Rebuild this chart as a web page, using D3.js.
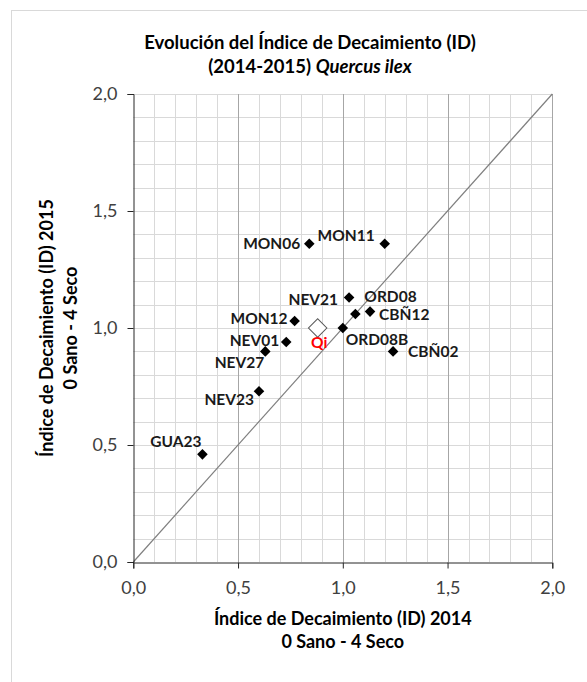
<!DOCTYPE html>
<html>
<head>
<meta charset="utf-8">
<script src="https://cdn.jsdelivr.net/npm/d3@7"></script>
<style>
  body { margin: 0; background: #fff; }
  svg { display: block; font-family: Lato, "Open Sans", sans-serif; }
</style>
</head>
<body>
<svg id="chart" width="587" height="682"></svg>
<script>
// Decline index per plot: 2014 value (x) against 2015 value (y)
const sites  = ["MON06", "MON11", "NEV21", "ORD08", "CBÑ12", "MON12", "ORD08B", "NEV01", "NEV27", "CBÑ02", "NEV23", "GUA23"];
const id2014 = [0.84, 1.20, 1.03, 1.06, 1.13, 0.77, 1.00, 0.73, 0.63, 1.24, 0.60, 0.33];
const id2015 = [1.36, 1.36, 1.13, 1.06, 1.07, 1.03, 1.00, 0.94, 0.90, 0.90, 0.73, 0.46];

// Species mean (Quercus ilex)
const meanLabel = "Qi";
const mean2014 = 0.88;
const mean2015 = 1.00;

// Axis ticks and the 1:1 reference line
const tickValues = [0, 0.5, 1.0, 1.5, 2.0];
const diagonal = [0, 2];

// Label placement around each marker (pixels)
const labelDx     = [-9, -10, -11, 9, 9, -7, 3, -7, -1, 15, -5, -1];
const labelDy     = [5, -3, 7, -12, 8, 3, 17, 4, 17, 6, 14, -7];
const labelAnchor = ["end", "end", "end", "start", "start", "end", "start", "end", "end", "start", "end", "end"];

const svg = d3.select("#chart");
const plot = { left: 133.3, right: 552.3, top: 94, bottom: 562 };

const x = d3.scaleLinear().domain([0, 2]).range([plot.left, plot.right]);
const y = d3.scaleLinear().domain([0, 2]).range([plot.bottom, plot.top]);

const comma = d3.formatLocale({ decimal: ",", thousands: ".", grouping: [3], currency: ["", "€"] }).format(".1f");

// chart frame
svg.append("rect")
  .attr("x", 11.5).attr("y", 10.5)
  .attr("width", 640).attr("height", 720)
  .attr("fill", "#fff").attr("stroke", "#d9d9d9");

// gridlines: light every 0.1, darker verticals at the major ticks
const gridVals = d3.range(0, 21).map(i => i / 10);
const grid = svg.append("g");
grid.selectAll("line.hy").data(gridVals.slice(1)).join("line")
  .attr("x1", plot.left).attr("x2", plot.right)
  .attr("y1", d => Math.round(y(d)) + 0.5).attr("y2", d => Math.round(y(d)) + 0.5)
  .attr("stroke", "#d9d9d9");
grid.selectAll("line.vx").data(gridVals.slice(1).filter((d, i) => (i + 1) % 5 !== 0)).join("line")
  .attr("y1", plot.top).attr("y2", plot.bottom)
  .attr("x1", d => Math.round(x(d)) + 0.5).attr("x2", d => Math.round(x(d)) + 0.5)
  .attr("stroke", "#d9d9d9");
grid.selectAll("line.vmaj").data(tickValues.slice(1)).join("line")
  .attr("y1", plot.top).attr("y2", plot.bottom)
  .attr("x1", d => Math.round(x(d)) + 0.5).attr("x2", d => Math.round(x(d)) + 0.5)
  .attr("stroke", "#a6a6a6");

// 1:1 line
svg.append("line")
  .attr("x1", x(diagonal[0])).attr("y1", y(diagonal[0]))
  .attr("x2", x(diagonal[1])).attr("y2", y(diagonal[1]))
  .attr("stroke", "#7f7f7f").attr("stroke-width", 1.2);

// axes
const xAxis = d3.axisBottom(x).tickValues(tickValues).tickFormat(comma).tickSize(6).tickPadding(13);
const yAxis = d3.axisLeft(y).tickValues(tickValues).tickFormat(comma).tickSize(6).tickPadding(10);

const gx = svg.append("g").attr("transform", `translate(0,${Math.round(plot.bottom) + 0.5})`).call(xAxis);
const gy = svg.append("g").attr("transform", `translate(${Math.round(plot.left) + 0.5},0)`).call(yAxis);
[gx, gy].forEach(g => {
  g.select(".domain").attr("stroke", "#262626");
  g.selectAll(".tick line").attr("stroke", "#262626");
  g.selectAll(".tick text").attr("fill", "#404040").style("font-size", "18px").style("font-family", "Lato, sans-serif");
});

// markers
const pts = sites.map((s, i) => ({ name: s, x: id2014[i], y: id2015[i], dx: labelDx[i], dy: labelDy[i], anchor: labelAnchor[i] }));
const diamond = d3.symbol().type(d3.symbolSquare);

svg.append("g").selectAll("path").data(pts).join("path")
  .attr("d", diamond.size(56)())
  .attr("transform", d => `translate(${x(d.x)},${y(d.y)}) rotate(45)`)
  .attr("fill", "#000");

svg.append("path")
  .attr("d", d3.symbol().type(d3.symbolSquare).size(170)())
  .attr("transform", `translate(${x(mean2014)},${y(mean2015)}) rotate(45)`)
  .attr("fill", "#fff").attr("stroke", "#595959").attr("stroke-width", 1);

// labels
svg.append("g").selectAll("text").data(pts).join("text")
  .attr("x", d => x(d.x) + d.dx)
  .attr("y", d => y(d.y) + d.dy)
  .attr("text-anchor", d => d.anchor)
  .attr("font-weight", "bold")
  .attr("font-size", "15.5px")
  .attr("fill", "#1a1a1a")
  .text(d => d.name);

svg.append("text")
  .attr("x", x(mean2014) + 1.5)
  .attr("y", y(mean2015) + 20)
  .attr("text-anchor", "middle")
  .attr("font-weight", "bold")
  .attr("font-size", "15.5px")
  .attr("fill", "#ff0000")
  .text(meanLabel);

// title
const title = svg.append("text").attr("text-anchor", "middle").attr("font-weight", "bold")
  .attr("font-size", "18.5px").attr("fill", "#000");
title.append("tspan").attr("x", 310).attr("y", 49).text("Evolución del Índice de Decaimiento (ID)");
const t2 = title.append("tspan").attr("x", 310).attr("y", 73);
t2.append("tspan").text("(2014-2015) ");
t2.append("tspan").attr("font-style", "italic").text("Quercus ilex");

// axis titles
const cx = (plot.left + plot.right) / 2;
const xt = svg.append("text").attr("text-anchor", "middle").attr("font-weight", "bold")
  .attr("font-size", "18px").attr("fill", "#000");
xt.append("tspan").attr("x", cx).attr("y", 625).text("Índice de Decaimiento (ID) 2014");
xt.append("tspan").attr("x", cx).attr("y", 648).text("0 Sano - 4 Seco");

const cy = (plot.top + plot.bottom) / 2;
const yt = svg.append("text").attr("text-anchor", "middle").attr("font-weight", "bold")
  .attr("font-size", "18px").attr("fill", "#000")
  .attr("transform", `translate(0,${cy}) rotate(-90)`);
yt.append("tspan").attr("x", 0).attr("y", 53).text("Índice de Decaimiento (ID) 2015");
yt.append("tspan").attr("x", 0).attr("y", 76.5).text("0 Sano - 4 Seco");
</script>
</body>
</html>
